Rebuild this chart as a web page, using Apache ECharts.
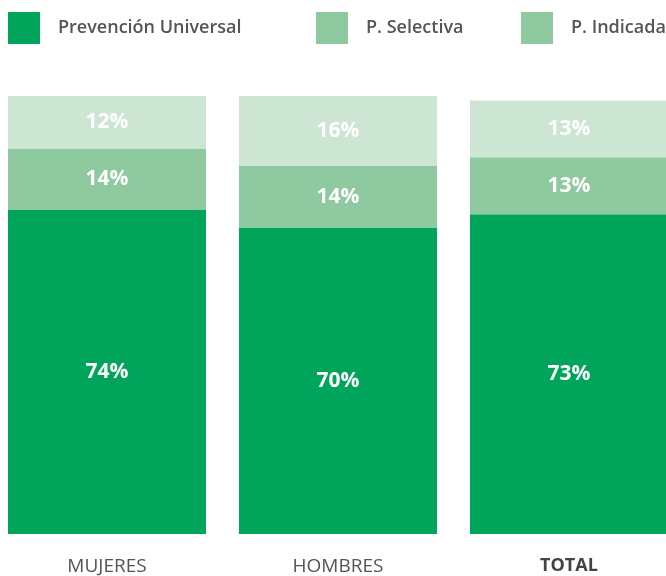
<!DOCTYPE html>
<html>
<head>
<meta charset="utf-8">
<script src="https://cdn.jsdelivr.net/npm/echarts@6/dist/echarts.min.js"></script>
<style>
  html, body { margin: 0; padding: 0; background: #fff; overflow: hidden; }
  #chart { width: 702px; height: 576px; position: relative; left: -9px; }
</style>
</head>
<body>
<div id="chart"></div>
<script>
  // datos
  var categorias = ['MUJERES', 'HOMBRES', 'TOTAL'];
  var universal = [74, 70, 73];
  var selectiva = [14, 14, 13];
  var indicada = [12, 16, 13];

  var verde = '#00a55b', verdeMedio = '#8fc9a0', verdeClaro = '#cde6d3';
  var fuente = '"Open Sans", sans-serif';
  var desplaz = 9; // el div empieza 9px a la izquierda de la página

  function leyenda(nombre, left, color) {
    return {
      left: left + desplaz, top: 12,
      padding: 0,
      itemWidth: 32, itemHeight: 32, itemGap: 0,
      icon: 'rect',
      selectedMode: false,
      data: [{ name: nombre, itemStyle: { color: color } }],
      textStyle: { fontFamily: fuente, fontSize: 18, fontWeight: 600, color: '#555', padding: [0, 0, 0, 13] }
    };
  }

  function serie(nombre, datos, color) {
    return {
      name: nombre,
      type: 'bar',
      stack: 'total',
      data: datos,
      barWidth: 198,
      itemStyle: { color: color },
      label: {
        show: true, position: 'inside',
        formatter: '{c}%',
        fontFamily: fuente, fontSize: 21, fontWeight: 'bold', color: '#fff'
      }
    };
  }

  var chart = echarts.init(document.getElementById('chart'));
  chart.setOption({
    animation: false,
    legend: [
      leyenda('Prevención Universal', 8, verde),
      leyenda('P. Selectiva', 316, verdeMedio),
      leyenda('P. Indicada', 521, verdeMedio)
    ],
    grid: { left: 0.5, width: 693, top: 96, bottom: 42 },
    xAxis: {
      type: 'category',
      data: categorias,
      axisLine: { show: false },
      axisTick: { show: false },
      axisLabel: {
        margin: 23,
        fontFamily: fuente, fontSize: 19, color: '#555',
        formatter: function (v) { return v === 'TOTAL' ? '{b|' + v + '}' : v; },
        rich: { b: { fontFamily: fuente, fontSize: 18, fontWeight: 'bold', color: '#444' } }
      }
    },
    yAxis: { type: 'value', min: 0, max: 100, show: false, splitLine: { show: false } },
    series: [
      serie('Prevención Universal', universal, verde),
      serie('P. Selectiva', selectiva, verdeMedio),
      serie('P. Indicada', indicada, verdeClaro)
    ]
  });
</script>
</body>
</html>
